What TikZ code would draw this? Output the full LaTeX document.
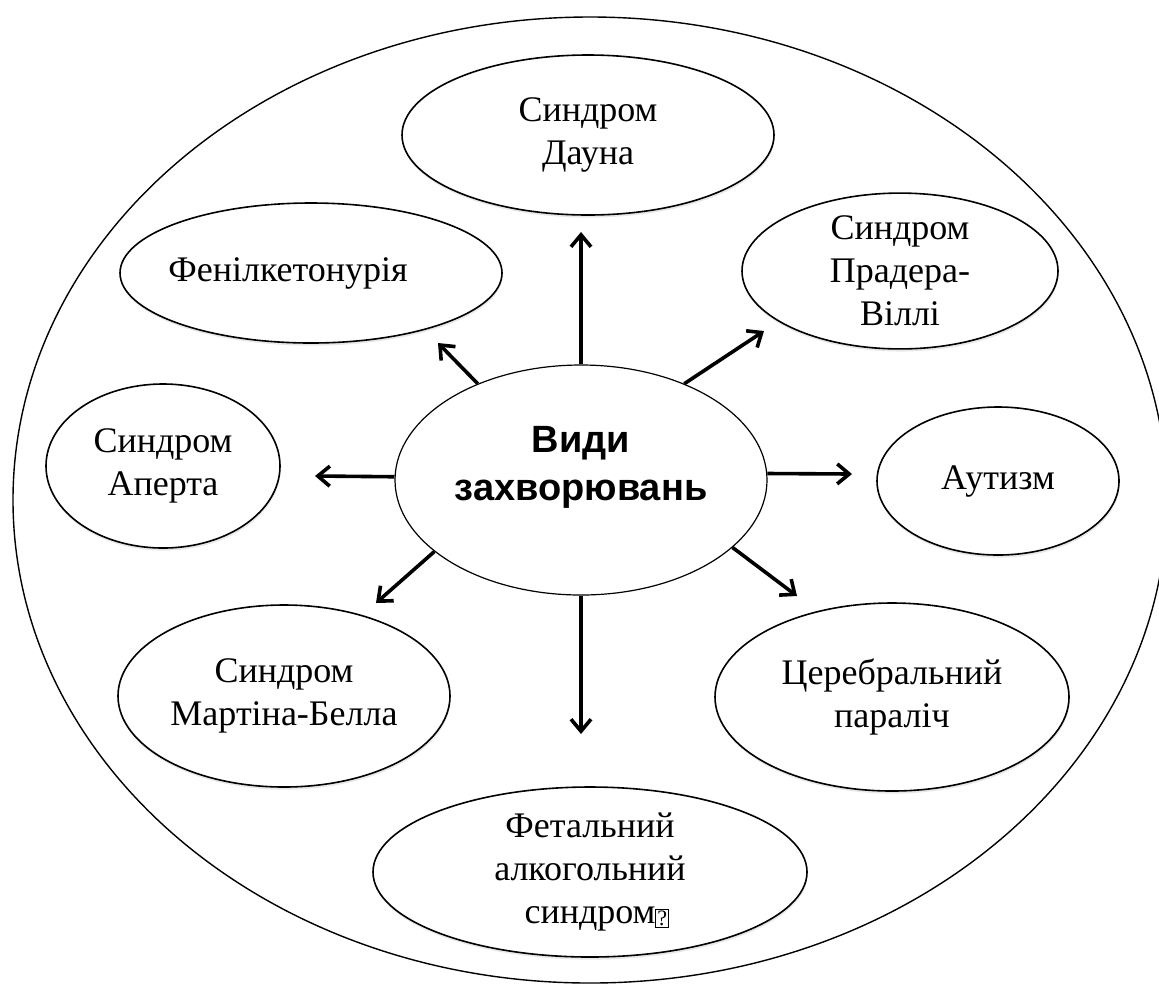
\documentclass[tikz,border=0pt]{standalone}
\usepackage{fontspec}
\setmainfont{Liberation Serif}
\newfontfamily\headfont{Liberation Sans}
\usetikzlibrary{arrows.meta,shapes.geometric,shadows}
\newcommand\qbox{{\setlength\fboxsep{0.6pt}\setlength\fboxrule{0.4pt}\raisebox{-1pt}{\fbox{\fontsize{11}{11}\selectfont ?}}}}

\begin{document}
\begin{tikzpicture}[
  x=0.5pt,y=-0.5pt,
  >={Straight Barb[length=6pt,width=10pt]},
  rim/.style={draw,ellipse,line width=0.7pt},
  disease/.style={draw,ellipse,line width=0.8pt,fill=white,inner sep=0pt,align=center,font=\fontsize{18}{21.5}\selectfont,drop shadow={opacity=0.18,shadow xshift=0.3pt,shadow yshift=-1.3pt}},
  hub/.style={draw,ellipse,line width=0.6pt,fill=white,inner sep=0pt,align=center,font=\headfont\bfseries\fontsize{19}{24}\selectfont},
  arrow/.style={->,line width=1.8pt}
]
  \useasboundingbox (0,0) rectangle (1159,992);
  \node[rim,minimum width=577pt,minimum height=483pt] (rim) at (590,500) {};

  \node[hub,minimum width=186pt,minimum height=115pt] (types) at (581,480) {Види\\захворювань\\[-7pt]\mbox{}};
  \node[disease,minimum width=186pt,minimum height=80pt] (down) at (588,135) {Синдром\\Дауна};
  \node[disease,minimum width=191pt,minimum height=70pt] (pku) at (311,273) {\hspace*{-23pt}Фенілкетонурія};
  \node[disease,minimum width=158pt,minimum height=77pt] (pws) at (900,271) {Синдром\\Прадера-\\Віллі};
  \node[disease,minimum width=117pt,minimum height=82pt] (apert) at (163,466) {Синдром\\Аперта};
  \node[disease,minimum width=121pt,minimum height=74pt] (autism) at (998,481) {Аутизм};
  \node[disease,minimum width=166pt,minimum height=91pt] (fxs) at (284,696) {Синдром\\Мартіна-Белла};
  \node[disease,minimum width=177pt,minimum height=94pt] (cp) at (892,697) {Церебральний\\параліч};
  \node[disease,minimum width=217pt,minimum height=85pt] (fas) at (590,872) {Фетальний\\алкогольний\\синдром\rlap{\qbox}};

  % arrow tips stop short of the ellipses
  \coordinate (toDown) at (581,232);
  \coordinate (toPku) at (438,343);
  \coordinate (toPws) at (764,331);
  \coordinate (toApert) at (315,476);
  \coordinate (toAutism) at (852,474);
  \coordinate (toFxs) at (376,603);
  \coordinate (toCp) at (797,596);
  \coordinate (toFas) at (581,734);

  \draw[arrow] (types.90) -- (toDown);
  \draw[arrow] (types.137) -- (toPku);
  \draw[arrow] (types.43) -- (toPws);
  \draw[arrow] (types.179) -- (toApert);
  \draw[arrow] (types.2) -- (toAutism);
  \draw[arrow] (types.206) -- (toFxs);
  \draw[arrow] (types.336) -- (toCp);
  \draw[arrow] (types.270) -- (toFas);
\end{tikzpicture}
\end{document}
